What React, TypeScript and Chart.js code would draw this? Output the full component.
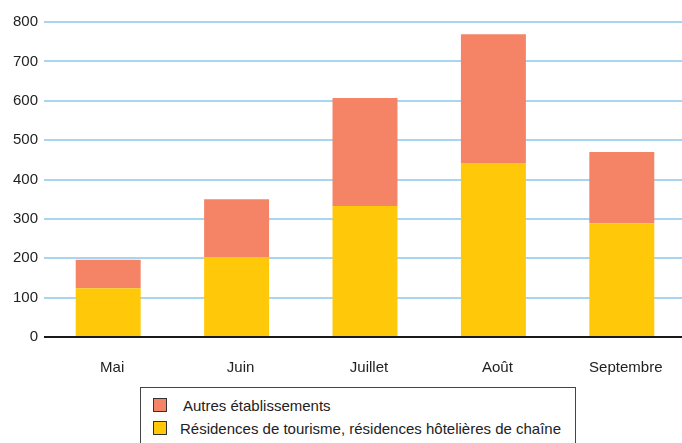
import React, { useEffect, useRef } from "react";
import { Chart, registerables } from "chart.js";

Chart.register(...registerables);

const categories = ["Mai", "Juin", "Juillet", "Août", "Septembre"];
const residences = [124, 203, 333, 442, 289];
const autres = [72, 147, 274, 327, 181];
const seriesNames = [
  "Autres établissements",
  "Résidences de tourisme, résidences hôtelières de chaîne",
];
const seriesColors = ["#F58467", "#FFC90A"];
const yTicks = [0, 100, 200, 300, 400, 500, 600, 700, 800];

const FONT = "'Liberation Sans', Arial, Helvetica, sans-serif";

const zeroLinePlugin = {
  id: "zeroLine",
  afterDatasetsDraw(chart: any) {
    const y = chart.scales.y.getPixelForValue(0);
    const { left, right } = chart.chartArea;
    const ctx = chart.ctx;
    ctx.save();
    ctx.strokeStyle = "#1a1a1a";
    ctx.lineWidth = 2;
    ctx.beginPath();
    ctx.moveTo(left, y);
    ctx.lineTo(right, y);
    ctx.stroke();
    ctx.restore();
  },
};

export default function App() {
  const ref = useRef<HTMLCanvasElement | null>(null);
  useEffect(() => {
    document.body.style.margin = "0";
    const chart = new Chart(ref.current as HTMLCanvasElement, {
      type: "bar",
      data: {
        labels: categories,
        datasets: [
          {
            label: seriesNames[1],
            data: residences,
            backgroundColor: seriesColors[1],
            barPercentage: 0.506,
            categoryPercentage: 1,
          },
          {
            label: seriesNames[0],
            data: autres,
            backgroundColor: seriesColors[0],
            barPercentage: 0.506,
            categoryPercentage: 1,
          },
        ],
      },
      options: {
        responsive: false,
        animation: false,
        layout: { padding: { top: 22, left: 0, right: 0, bottom: 0 } },
        plugins: { legend: { display: false }, tooltip: { enabled: false } },
        scales: {
          x: {
            stacked: true,
            grid: { display: false },
            border: { display: false },
            ticks: { color: "#222", font: { size: 15, family: FONT }, padding: 14, labelOffset: 4 },
            afterFit: (s: any) => {
              s.height = 48;
            },
          },
          y: {
            stacked: true,
            min: 0,
            max: 800,
            afterBuildTicks: (s: any) => {
              s.ticks = yTicks.map((v) => ({ value: v }));
            },
            grid: {
              color: (c: any) => (c.tick && c.tick.value === 0 ? "rgba(0,0,0,0)" : "#A8D5F0"),
              lineWidth: 2,
              drawTicks: false,
            },
            border: { display: false },
            ticks: { color: "#222", font: { size: 15, family: FONT }, padding: 6 },
            afterFit: (s: any) => {
              s.width = 44;
            },
          },
        },
      },
      plugins: [zeroLinePlugin],
    } as any);
    return () => chart.destroy();
  }, []);

  const legendRows = [0, 1];
  return (
    <div style={{ position: "relative", width: 682, height: 443, overflow: "hidden", background: "#fff" }}>
      <canvas ref={ref} width={686} height={385} style={{ position: "absolute", left: 0, top: 0 }} />
      <div
        style={{
          position: "absolute",
          left: 140,
          top: 387,
          width: 436,
          height: 70,
          border: "1.5px solid #444",
          boxSizing: "border-box",
          fontFamily: FONT,
          fontSize: 15,
          color: "#222",
        }}
      >
        {legendRows.map((i) => (
          <div
            key={i}
            style={{
              position: "absolute",
              left: 12,
              top: i === 0 ? 9 : 32,
              height: 16,
              display: "flex",
              alignItems: "center",
              whiteSpace: "nowrap",
            }}
          >
            <span
              style={{
                display: "inline-block",
                width: 14,
                height: 14,
                boxSizing: "border-box",
                border: "1px solid #333",
                background: seriesColors[i],
                marginRight: i === 0 ? 16 : 13,
              }}
            />
            <span>{seriesNames[i]}</span>
          </div>
        ))}
      </div>
    </div>
  );
}
